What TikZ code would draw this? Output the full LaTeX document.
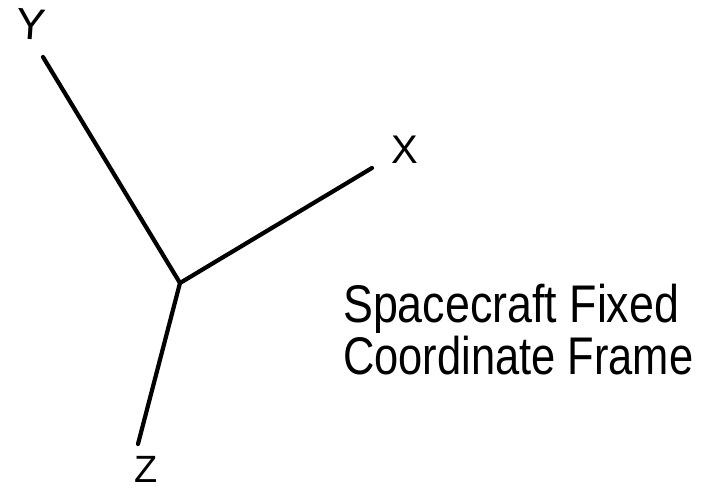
\documentclass[tikz,border=0pt]{standalone}
\usepackage{fontspec}
\setmainfont{Liberation Sans}
\begin{document}
\begin{tikzpicture}[x=1pt,y=-1pt,
  axis/.style={line width=4.2pt,line cap=round,black},
  axlabel/.style={inner sep=0pt,font=\fontsize{44}{46}\selectfont},
  caption/.style={anchor=base west,inner sep=0pt,font=\fontsize{53}{55}\selectfont}]
\useasboundingbox (0,0) rectangle (716,489);
\coordinate (O) at (180,283);
\coordinate (Yend) at (43,57);
\coordinate (Xend) at (372,168);
\coordinate (Zend) at (138,444);
\draw[axis] (O) -- (Yend);
\draw[axis] (O) -- (Xend);
\draw[axis] (O) -- (Zend);
\node[axlabel,rotate=-4] (ylab) at (31,24) {Y};
\node[axlabel,font=\fontsize{40}{42}\selectfont] (xlab) at (405,150) {X};
\node[axlabel,font=\fontsize{38}{40}\selectfont] (zlab) at (146,469) {Z};
\node[caption] (cap1) at (343,323) {\scalebox{0.845}[1]{Spacecraft Fixed}};
\node[caption] (cap2) at (343,375) {\scalebox{0.82}[1]{Coordinate Frame}};
\end{tikzpicture}
\end{document}
